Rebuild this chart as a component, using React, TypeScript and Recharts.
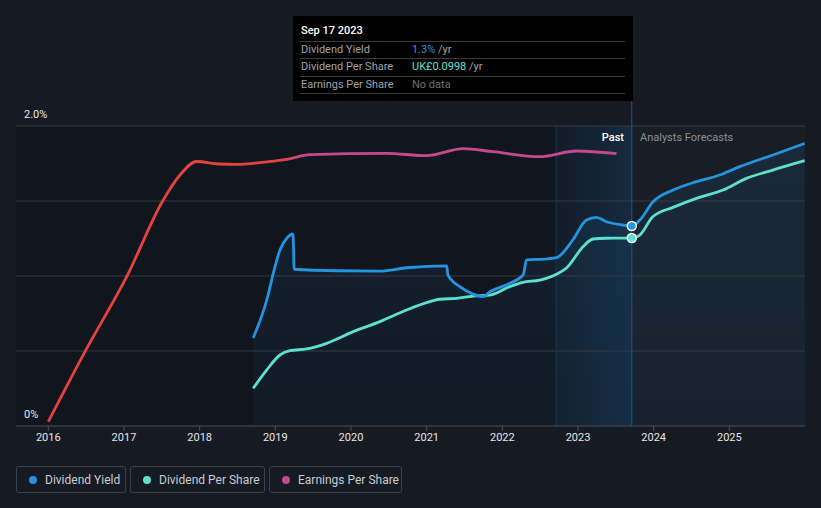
import React from 'react';
import {
  ComposedChart, Line, Area, XAxis, YAxis, ReferenceArea, ReferenceLine, ReferenceDot,
} from 'recharts';

// x values are decimal years
const yieldYears = [
  2018.708, 2018.898, 2018.978, 2019.061, 2019.153, 2019.233, 2019.25, 2019.853, 2020.382,
  2020.738, 2021.266, 2021.28, 2021.438, 2021.61, 2021.742, 2021.835, 2022.099, 2022.275,
  2022.32, 2022.56, 2022.716, 2022.931, 2023.112, 2023.244, 2023.376, 2023.596, 2023.711,
  2023.817, 2023.992, 2024.256, 2024.565, 2024.873, 2025.137, 2025.577, 2025.996,
];
const yieldValues = [
  0.587, 0.86, 1.027, 1.173, 1.253, 1.28, 1.045, 1.035, 1.033,
  1.055, 1.067, 1.007, 0.929, 0.88, 0.862, 0.895, 0.951, 1.007,
  1.107, 1.113, 1.122, 1.24, 1.373, 1.391, 1.362, 1.34, 1.333,
  1.373, 1.495, 1.573, 1.629, 1.673, 1.729, 1.807, 1.884,
];

const dpsYears = [
  2018.708, 2018.885, 2019.061, 2019.193, 2019.414, 2019.678, 2020.029, 2020.382, 2020.735,
  2020.999, 2021.174, 2021.395, 2021.614, 2021.835, 2022.099, 2022.271, 2022.495, 2022.716,
  2022.848, 2023.067, 2023.199, 2023.376, 2023.711, 2023.817, 2023.988, 2024.256, 2024.565,
  2024.917, 2025.226, 2025.573, 2025.996,
];
const dpsValues = [
  0.02, 0.0297, 0.0377, 0.04, 0.0409, 0.0439, 0.0501, 0.0554, 0.0616,
  0.0655, 0.0673, 0.0678, 0.069, 0.0695, 0.074, 0.0763, 0.0775, 0.0806,
  0.0839, 0.0952, 0.0993, 0.0997, 0.0998, 0.1014, 0.1111, 0.1161, 0.1209,
  0.1253, 0.1315, 0.1359, 0.1409,
];

const epsYears = [
  2016.0, 2016.485, 2017.036, 2017.519, 2017.74, 2017.96, 2018.268, 2018.489, 2018.797,
  2019.149, 2019.457, 2020.47, 2020.999, 2021.482, 2021.879, 2022.496, 2022.981, 2023.509,
];
const epsValues = [
  0.0043, 0.0743, 0.1493, 0.226, 0.251, 0.2645, 0.262, 0.2617, 0.2633,
  0.2667, 0.2713, 0.2727, 0.2703, 0.2773, 0.2743, 0.2693, 0.275, 0.2723,
];

const yearTicks = [2016, 2017, 2018, 2019, 2020, 2021, 2022, 2023, 2024, 2025];
const xDomain = [2015.573, 2026.0];
const today = 2023.711;
const pastStart = 2022.711;

const yieldData = yieldYears.map((t, i) => ({ t, v: yieldValues[i] }));
const dpsData = dpsYears.map((t, i) => ({ t, v: dpsValues[i] }));
const epsData = epsYears.map((t, i) => ({ t, v: epsValues[i] }));

const legendItems = [
  { label: 'Dividend Yield', color: '#2394df', w: 110 },
  { label: 'Dividend Per Share', color: '#5ce0cf', w: 135 },
  { label: 'Earnings Per Share', color: '#c4488e', w: 133 },
];

const font = 'Roboto, "Noto Sans", sans-serif';

const tooltipRows = [
  { label: 'Dividend Yield', value: '1.3%', color: '#2394df', unit: ' /yr' },
  { label: 'Dividend Per Share', value: 'UK£0.0998', color: '#5ce0cf', unit: ' /yr' },
  { label: 'Earnings Per Share', value: 'No data', color: '#6b7078', unit: '' },
];

export default function App() {
  return (
    <div style={{
      position: 'absolute', left: 0, top: 0, width: 821, height: 508,
      background: '#151a23', fontFamily: font, overflow: 'hidden',
    }}>
      <ComposedChart width={821} height={508} margin={{ top: 126, right: 16, bottom: 52, left: 16 }}>
        <defs>
          <linearGradient id="yieldFill" x1="0" y1="0" x2="0" y2="1">
            <stop offset="0%" stopColor="#2394df" stopOpacity={0.17} />
            <stop offset="100%" stopColor="#2394df" stopOpacity={0.07} />
          </linearGradient>
          <linearGradient id="bandFill" x1="0" y1="0" x2="1" y2="0">
            <stop offset="0%" stopColor="#1f5f95" stopOpacity={0.2} />
            <stop offset="100%" stopColor="#1f6aa5" stopOpacity={0.5} />
          </linearGradient>
          <linearGradient id="epsStroke" x1="0" y1="0" x2="1" y2="0">
            <stop offset="0.4" stopColor="#e5413f" />
            <stop offset="0.45" stopColor="#c4488e" />
          </linearGradient>
        </defs>
        <XAxis
          dataKey="t" type="number" domain={xDomain} ticks={yearTicks} allowDataOverflow
          axisLine={{ stroke: '#4a4f58' }} tickLine={{ stroke: '#4a4f58' }} tickSize={5}
          tick={{ fill: '#e6e6e6', fontSize: 11, fontFamily: font }}
        />
        <YAxis yAxisId="yield" domain={[0, 2]} hide allowDataOverflow />
        <YAxis yAxisId="dps" domain={[0, 0.1593]} hide allowDataOverflow />
        <YAxis yAxisId="eps" domain={[0, 0.3]} hide allowDataOverflow />

        <ReferenceArea yAxisId="yield" x1={xDomain[0]} x2={today} y1={0} y2={2}
          fill="#0b0e14" fillOpacity={0.35} stroke="none" />
        <ReferenceArea yAxisId="yield" x1={today} x2={xDomain[1]} y1={0} y2={2}
          fill="#ffffff" fillOpacity={0.015} stroke="none" />
        {[0.5, 1, 1.5, 2].map((v) => (
          <ReferenceLine key={v} yAxisId="yield" y={v} stroke="#353a44" strokeWidth={1} />
        ))}

        <Area yAxisId="yield" data={yieldData} dataKey="v" type="monotone" stroke="none"
          fill="url(#yieldFill)" isAnimationActive={false} />
        <ReferenceArea yAxisId="yield" x1={pastStart} x2={today} y1={0} y2={2}
          fill="url(#bandFill)" stroke="none" />
        <ReferenceLine yAxisId="yield" x={pastStart} stroke="#1a3852" strokeWidth={1} />
        <ReferenceLine yAxisId="yield" ifOverflow="visible"
          segment={[{ x: today, y: 0 }, { x: today, y: 2.167 }]} stroke="#22567f" strokeWidth={1} />

        <Line yAxisId="eps" data={epsData} dataKey="v" type="monotone" stroke="url(#epsStroke)"
          strokeWidth={2.8} dot={false} isAnimationActive={false} />
        <Line yAxisId="dps" data={dpsData} dataKey="v" type="monotone" stroke="#5ce0cf"
          strokeWidth={2.8} dot={false} isAnimationActive={false} />
        <Line yAxisId="yield" data={yieldData} dataKey="v" type="monotone" stroke="#2394df"
          strokeWidth={2.8} dot={false} isAnimationActive={false} />

        <ReferenceDot yAxisId="yield" x={today} y={1.333} r={4.5} fill="#2394df" stroke="#ffffff" strokeWidth={1.5} />
        <ReferenceDot yAxisId="dps" x={today} y={0.0998} r={4.5} fill="#5ce0cf" stroke="#ffffff" strokeWidth={1.5} />
      </ComposedChart>

      <div style={{ position: 'absolute', left: 24, top: 108, fontSize: 11, color: '#e6e6e6' }}>2.0%</div>
      <div style={{ position: 'absolute', left: 24, top: 408, fontSize: 11, color: '#e6e6e6' }}>0%</div>

      <div style={{ position: 'absolute', right: 821 - 624, top: 131, fontSize: 11, color: '#ffffff', fontWeight: 500 }}>Past</div>
      <div style={{ position: 'absolute', left: 640, top: 131, fontSize: 11, color: '#8a9099' }}>Analysts Forecasts</div>

      <div style={{
        position: 'absolute', left: 293, top: 16, width: 340, height: 85, background: '#000000',
      }}>
        <div style={{ position: 'absolute', left: 8, top: 8, fontSize: 11, fontWeight: 500, color: '#ffffff' }}>Sep 17 2023</div>
        {tooltipRows.map((r, i) => (
          <div key={r.label} style={{
            position: 'absolute', left: 7, top: 25 + i * 17.3, width: 325, height: 17,
            borderTop: '1px solid #3a3a3a', fontSize: 11, lineHeight: '16px',
          }}>
            <span style={{ position: 'absolute', left: 1, color: '#9ea3a9' }}>{r.label}</span>
            <span style={{ position: 'absolute', left: 112, color: r.color }}>
              {r.value}<span style={{ color: '#9ea3a9' }}>{r.unit}</span>
            </span>
          </div>
        ))}
        <div style={{ position: 'absolute', left: 7, top: 77, width: 325, borderTop: '1px solid #3a3a3a' }} />
      </div>

      <div style={{ position: 'absolute', left: 16, top: 466, display: 'flex', gap: 4 }}>
        {legendItems.map((it) => (
          <div key={it.label} style={{
            width: it.w, height: 27, boxSizing: 'border-box', border: '1px solid #3b414b',
            borderRadius: 3, display: 'flex', alignItems: 'center', paddingLeft: 12,
            fontSize: 12, color: '#c9ccd1',
          }}>
            <span style={{ width: 8, height: 8, borderRadius: 4, background: it.color, marginRight: 8 }} />
            {it.label}
          </div>
        ))}
      </div>
    </div>
  );
}
